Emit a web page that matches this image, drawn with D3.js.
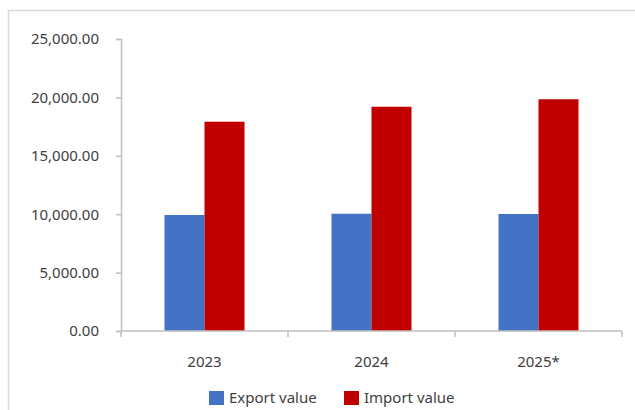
<!DOCTYPE html>
<html lang="en">
<head>
    <meta charset="utf-8">
    <title>Export and import value</title>
    <script src="https://d3js.org/d3.v7.min.js"></script>
    <style>
        body { margin: 0; background: #fff; }
        text { font-family: "Noto Sans", sans-serif; fill: #404040; }
    </style>
</head>
<body>
    <div id="chart"></div>
    <script>
        // Data
        const years = ["2023", "2024", "2025*"];
        const seriesNames = ["Export value", "Import value"];
        const exportValues = [9930, 10040, 10020];
        const importValues = [17920, 19200, 19840];
        const yTicks = [0, 5000, 10000, 15000, 20000, 25000];

        const colors = ["#4472c4", "#c00000"];

        // Dimensions
        const W = 635, H = 410;
        const margin = { top: 39, right: 13, bottom: 79, left: 121 };
        const width = W - margin.left - margin.right;
        const height = H - margin.top - margin.bottom;

        const svg = d3.select("#chart").append("svg")
            .attr("width", W)
            .attr("height", H);

        // Frame
        svg.append("rect")
            .attr("x", 8.5).attr("y", 10.5)
            .attr("width", W).attr("height", H)
            .attr("fill", "none")
            .attr("stroke", "#d9d9d9")
            .attr("stroke-width", 1.5);

        const g = svg.append("g")
            .attr("transform", `translate(${margin.left},${margin.top})`);

        // Scales
        const x0 = d3.scaleBand().domain(years).range([0, width]).paddingInner(0).paddingOuter(0);
        const x1 = d3.scaleBand().domain(seriesNames).range([0, 80]);
        const y = d3.scaleLinear().domain([0, 25000]).range([height, 0]);

        const table = years.map((yr, i) => ({ year: yr, values: [exportValues[i], importValues[i]] }));

        // Bars
        const groups = g.selectAll("g.year")
            .data(table)
            .join("g")
            .attr("class", "year")
            .attr("transform", d => `translate(${x0(d.year) + (x0.bandwidth() - 80) / 2},0)`);

        groups.selectAll("rect")
            .data(d => d.values.map((v, i) => ({ key: seriesNames[i], value: v, i })))
            .join("rect")
            .attr("x", d => x1(d.key))
            .attr("width", x1.bandwidth())
            .attr("y", d => y(d.value))
            .attr("height", d => height - y(d.value))
            .attr("fill", d => colors[d.i]);

        // Y axis
        const yAxis = g.append("g")
            .call(d3.axisLeft(y).tickValues(yTicks).tickSize(5).tickPadding(17)
                .tickFormat(d3.format(",.2f")));
        yAxis.select(".domain").attr("stroke", "#bfbfbf").attr("stroke-width", 1.5);
        yAxis.selectAll(".tick line").attr("stroke", "#bfbfbf").attr("stroke-width", 1.5);
        yAxis.selectAll("text").style("font-size", "15px").attr("fill", "#404040");

        // X axis
        const xAxis = g.append("g")
            .attr("transform", `translate(0,${height})`)
            .call(d3.axisBottom(x0).tickSize(0).tickPadding(25));
        xAxis.select(".domain").remove();
        xAxis.append("line")
            .attr("x1", 0).attr("x2", width)
            .attr("stroke", "#bfbfbf").attr("stroke-width", 1.5);
        xAxis.selectAll(".sep")
            .data([0, ...years.map(yr => x0(yr) + x0.bandwidth())])
            .join("line")
            .attr("class", "sep")
            .attr("x1", d => d).attr("x2", d => d)
            .attr("y1", 0).attr("y2", 6)
            .attr("stroke", "#bfbfbf").attr("stroke-width", 1.5);
        xAxis.selectAll(".tick text").style("font-size", "15px").attr("fill", "#404040");

        // Legend
        const legend = svg.append("g").attr("transform", "translate(209,391)");
        const legendX = [0, 135];
        seriesNames.forEach((name, i) => {
            const lg = legend.append("g").attr("transform", `translate(${legendX[i]},0)`);
            lg.append("rect")
                .attr("width", 15).attr("height", 14)
                .attr("fill", colors[i]);
            lg.append("text")
                .attr("x", 20).attr("y", 12)
                .style("font-size", "15px")
                .text(name);
        });
    </script>
</body>
</html>
